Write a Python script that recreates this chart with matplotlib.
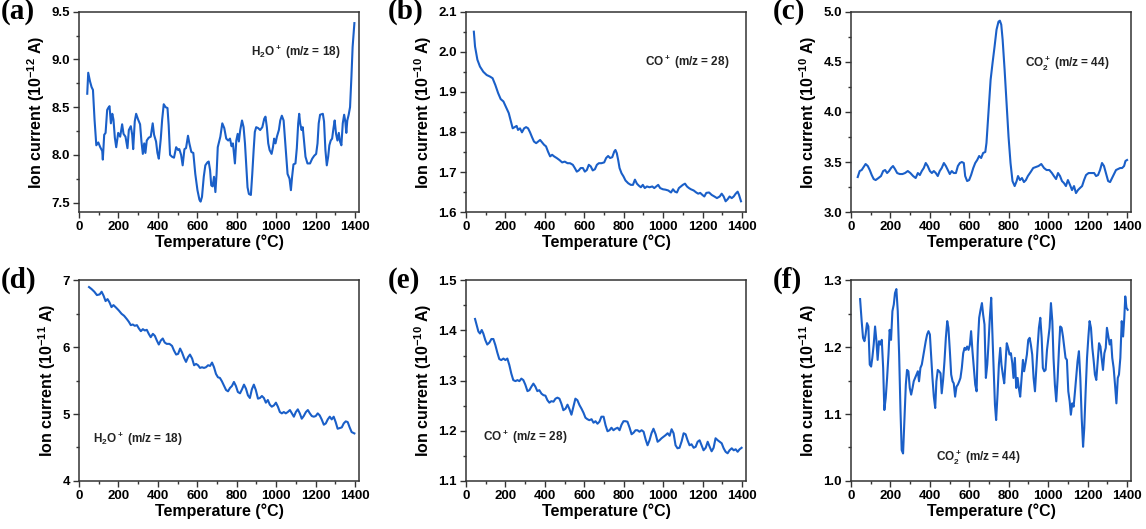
"""Ion current vs temperature (MS signals), six panels a-f."""
import matplotlib
matplotlib.use("Agg")
import matplotlib.pyplot as plt
from matplotlib.ticker import MultipleLocator, AutoMinorLocator

plt.rcParams["font.family"] = ["Liberation Sans", "DejaVu Sans"]
plt.rcParams["font.weight"] = "bold"
plt.rcParams["mathtext.fontset"] = "custom"
plt.rcParams["mathtext.rm"] = "Liberation Sans:bold"
plt.rcParams["mathtext.it"] = "Liberation Sans:bold"
plt.rcParams["mathtext.bf"] = "Liberation Sans:bold"

LINE = "#1a5fc8"

# (a) H2O+ , 10^-12 A
T_a = [42, 47, 56, 64, 71, 79, 88, 98, 108, 118, 121, 128, 135, 143, 148, 155, 162, 169,
       175, 182, 189, 199, 209, 219, 226, 236, 246, 253, 263, 270, 275, 283, 290, 300,
       310, 317, 324, 331, 337, 344, 354, 364, 374, 381, 391, 398, 405, 415, 422, 430,
       439, 449, 455, 462, 472, 482, 493, 503, 509, 518, 526, 535, 543, 553, 560, 570,
       580, 590, 601, 611, 617, 624, 633, 641, 651, 658, 665, 671, 678, 685, 692, 698,
       704, 717, 727, 737, 747, 757, 766, 774, 781, 791, 798, 805, 811, 818, 827, 835,
       842, 849, 855, 862, 872, 879, 886, 892, 899, 909, 919, 930, 940, 946, 953, 960,
       967, 977, 984, 990, 997, 1004, 1014, 1021, 1029, 1038, 1044, 1051, 1058, 1068,
       1075, 1081, 1088, 1098, 1105, 1112, 1117, 1122, 1129, 1135, 1142, 1149, 1159,
       1172, 1183, 1193, 1203, 1210, 1216, 1223, 1237, 1243, 1250, 1257, 1264, 1270,
       1277, 1284, 1291, 1297, 1304, 1311, 1318, 1324, 1331, 1338, 1345, 1351, 1356,
       1361, 1368, 1375, 1382, 1388, 1397]
I_a = [8.64, 8.86, 8.77, 8.71, 8.68, 8.37, 8.10, 8.13, 8.08, 8.04, 7.95, 8.21, 8.23, 8.47,
       8.49, 8.51, 8.33, 8.43, 8.37, 8.18, 8.08, 8.23, 8.19, 8.32, 8.22, 8.19, 8.07, 8.26,
       8.30, 8.21, 8.06, 8.35, 8.43, 8.37, 8.32, 8.14, 8.01, 8.12, 8.02, 8.15, 8.18, 8.19,
       8.33, 8.21, 8.14, 8.02, 7.96, 8.17, 8.37, 8.53, 8.50, 8.49, 8.31, 8.00, 7.98, 7.97,
       8.08, 8.05, 8.06, 8.00, 7.89, 8.06, 8.07, 8.20, 8.12, 8.03, 8.02, 7.80, 7.63, 7.53,
       7.51, 7.56, 7.77, 7.89, 7.92, 7.93, 7.84, 7.68, 7.67, 7.77, 7.61, 7.80, 8.08, 8.19,
       8.33, 8.28, 8.17, 8.15, 8.17, 8.09, 8.12, 7.91, 8.15, 8.22, 8.14, 8.26, 8.36, 8.29,
       8.12, 7.87, 7.66, 7.59, 7.58, 7.80, 8.05, 8.24, 8.29, 8.28, 8.26, 8.29, 8.38, 8.40,
       8.29, 8.12, 8.05, 8.01, 8.08, 8.17, 8.12, 8.19, 8.26, 8.36, 8.41, 8.36, 8.19, 7.98,
       7.80, 7.75, 7.63, 7.77, 7.90, 7.91, 8.07, 8.33, 8.43, 8.33, 8.26, 8.29, 8.14, 7.98,
       7.91, 7.91, 7.96, 7.99, 8.01, 8.12, 8.33, 8.42, 8.43, 8.35, 8.05, 7.89, 7.98, 8.10,
       8.15, 8.17, 8.28, 8.36, 8.22, 8.15, 8.23, 8.14, 8.10, 8.33, 8.42, 8.35, 8.23, 8.36,
       8.42, 8.50, 8.82, 9.13, 9.38]

# (b) CO+ , 10^-10 A
T_b = [40, 46, 58, 71, 88, 105, 122, 135, 149, 163, 176, 190, 203, 217, 227, 237, 247, 257,
       264, 274, 284, 295, 305, 315, 325, 335, 345, 356, 366, 376, 386, 396, 406, 416,
       427, 437, 447, 460, 474, 488, 501, 515, 528, 542, 552, 562, 572, 582, 593, 603,
       613, 623, 633, 643, 654, 664, 674, 687, 701, 711, 721, 731, 742, 752, 758, 765,
       772, 779, 789, 799, 809, 823, 836, 847, 857, 867, 877, 887, 897, 907, 918, 931,
       945, 955, 965, 975, 985, 999, 1012, 1026, 1040, 1050, 1060, 1070, 1080, 1090,
       1100, 1111, 1121, 1131, 1141, 1155, 1168, 1178, 1188, 1199, 1209, 1219, 1233,
       1246, 1260, 1273, 1287, 1297, 1307, 1317, 1327, 1337, 1348, 1358, 1368, 1378,
       1385, 1395]
I_b = [2.050, 2.013, 1.980, 1.963, 1.950, 1.942, 1.938, 1.934, 1.917, 1.897, 1.882, 1.876,
       1.862, 1.847, 1.828, 1.809, 1.812, 1.815, 1.805, 1.809, 1.799, 1.809, 1.812, 1.809,
       1.799, 1.787, 1.776, 1.772, 1.776, 1.780, 1.774, 1.768, 1.764, 1.751, 1.739, 1.743,
       1.739, 1.735, 1.730, 1.724, 1.726, 1.722, 1.722, 1.718, 1.710, 1.701, 1.704, 1.710,
       1.710, 1.701, 1.705, 1.718, 1.714, 1.704, 1.707, 1.718, 1.722, 1.722, 1.724, 1.735,
       1.740, 1.735, 1.737, 1.751, 1.755, 1.747, 1.730, 1.710, 1.697, 1.689, 1.679, 1.672,
       1.668, 1.668, 1.681, 1.671, 1.666, 1.662, 1.668, 1.660, 1.664, 1.662, 1.664, 1.660,
       1.664, 1.668, 1.660, 1.657, 1.656, 1.654, 1.649, 1.657, 1.651, 1.649, 1.660, 1.664,
       1.668, 1.671, 1.664, 1.660, 1.657, 1.654, 1.649, 1.646, 1.648, 1.643, 1.639, 1.648,
       1.649, 1.643, 1.639, 1.635, 1.639, 1.646, 1.639, 1.627, 1.632, 1.639, 1.635, 1.639,
       1.646, 1.651, 1.643, 1.627]

# (c) CO2+ , 10^-10 A
T_c = [34, 44, 54, 64, 74, 85, 95, 105, 115, 125, 139, 152, 163, 173, 183, 193, 203, 213,
       223, 234, 247, 261, 274, 288, 301, 315, 328, 339, 349, 359, 369, 379, 389, 400,
       410, 420, 430, 440, 450, 460, 471, 481, 491, 501, 511, 521, 532, 542, 552, 562,
       572, 579, 589, 599, 609, 620, 630, 640, 650, 660, 670, 681, 687, 698, 708, 718,
       728, 738, 748, 755, 762, 769, 779, 789, 799, 809, 819, 830, 840, 847, 857, 867,
       877, 887, 897, 911, 924, 938, 951, 965, 979, 992, 1006, 1019, 1029, 1040, 1050,
       1060, 1070, 1080, 1090, 1100, 1111, 1121, 1131, 1141, 1151, 1161, 1172, 1182,
       1192, 1205, 1219, 1233, 1243, 1253, 1263, 1273, 1283, 1293, 1304, 1314, 1324,
       1334, 1344, 1354, 1365, 1375, 1385, 1392, 1400]
I_c = [3.35, 3.41, 3.42, 3.45, 3.48, 3.46, 3.42, 3.37, 3.33, 3.32, 3.34, 3.36, 3.41, 3.42,
       3.39, 3.41, 3.44, 3.46, 3.43, 3.39, 3.38, 3.38, 3.39, 3.41, 3.39, 3.36, 3.34, 3.39,
       3.37, 3.41, 3.44, 3.49, 3.46, 3.41, 3.39, 3.41, 3.39, 3.36, 3.41, 3.44, 3.49, 3.46,
       3.42, 3.38, 3.41, 3.39, 3.39, 3.46, 3.49, 3.50, 3.49, 3.36, 3.31, 3.32, 3.37, 3.44,
       3.49, 3.52, 3.56, 3.54, 3.59, 3.60, 3.69, 4.02, 4.32, 4.49, 4.65, 4.82, 4.90, 4.91,
       4.87, 4.72, 4.42, 4.09, 3.75, 3.49, 3.31, 3.26, 3.31, 3.36, 3.32, 3.34, 3.30, 3.32,
       3.36, 3.40, 3.44, 3.45, 3.46, 3.48, 3.44, 3.42, 3.42, 3.39, 3.36, 3.33, 3.39, 3.36,
       3.31, 3.29, 3.26, 3.32, 3.27, 3.22, 3.26, 3.19, 3.22, 3.24, 3.26, 3.32, 3.37, 3.39,
       3.39, 3.39, 3.36, 3.37, 3.42, 3.49, 3.46, 3.39, 3.31, 3.30, 3.34, 3.38, 3.42, 3.43,
       3.44, 3.44, 3.46, 3.51, 3.52]

# (d) H2O+ , 10^-11 A
T_d = [51, 64, 78, 91, 105, 115, 125, 135, 145, 155, 165, 175, 189, 202, 216, 229, 243, 253,
       263, 273, 283, 294, 304, 314, 324, 334, 344, 354, 364, 375, 385, 395, 405, 415,
       425, 435, 445, 459, 472, 482, 493, 503, 513, 523, 533, 543, 553, 563, 574, 584,
       594, 604, 614, 624, 634, 644, 655, 665, 675, 685, 695, 705, 715, 725, 736, 746,
       756, 766, 776, 786, 796, 806, 817, 827, 837, 847, 857, 867, 877, 887, 897, 908,
       918, 928, 938, 948, 958, 968, 978, 989, 999, 1009, 1019, 1029, 1039, 1049, 1059,
       1070, 1080, 1090, 1100, 1110, 1120, 1130, 1140, 1151, 1161, 1171, 1181, 1191,
       1201, 1211, 1221, 1231, 1242, 1252, 1262, 1272, 1282, 1292, 1302, 1312, 1323,
       1333, 1343, 1353, 1363, 1373, 1383, 1397]
I_d = [6.90, 6.87, 6.83, 6.78, 6.79, 6.83, 6.77, 6.69, 6.72, 6.67, 6.60, 6.63, 6.59, 6.55,
       6.50, 6.47, 6.42, 6.38, 6.33, 6.34, 6.32, 6.33, 6.28, 6.24, 6.27, 6.25, 6.26, 6.20,
       6.15, 6.20, 6.17, 6.10, 6.04, 6.10, 6.13, 6.07, 6.05, 6.05, 6.02, 5.95, 5.89, 5.90,
       5.98, 5.92, 5.84, 5.78, 5.85, 5.89, 5.83, 5.73, 5.75, 5.73, 5.69, 5.70, 5.69, 5.70,
       5.73, 5.72, 5.77, 5.70, 5.60, 5.55, 5.54, 5.49, 5.42, 5.36, 5.34, 5.39, 5.42, 5.48,
       5.42, 5.33, 5.31, 5.37, 5.44, 5.38, 5.28, 5.24, 5.37, 5.44, 5.36, 5.23, 5.24, 5.27,
       5.24, 5.17, 5.21, 5.14, 5.11, 5.13, 5.17, 5.11, 5.03, 5.01, 5.03, 5.01, 5.03, 5.06,
       5.01, 4.96, 5.03, 5.07, 5.01, 4.93, 4.97, 5.03, 5.06, 5.01, 4.97, 4.96, 4.97, 5.01,
       4.98, 4.92, 4.84, 4.86, 4.92, 4.96, 4.92, 4.96, 4.88, 4.78, 4.79, 4.80, 4.86, 4.89,
       4.88, 4.80, 4.73, 4.71]

# (e) CO+ , 10^-10 A
T_e = [46, 54, 63, 71, 80, 88, 98, 108, 119, 129, 139, 149, 159, 169, 179, 190, 200, 210,
       220, 230, 240, 251, 261, 271, 281, 291, 301, 312, 322, 332, 342, 352, 362, 372,
       383, 393, 403, 413, 423, 433, 444, 454, 464, 474, 484, 494, 505, 515, 525, 535,
       545, 555, 565, 576, 586, 596, 606, 616, 626, 637, 647, 657, 667, 677, 687, 698,
       708, 718, 728, 738, 748, 758, 769, 779, 789, 799, 809, 819, 830, 840, 850, 860,
       870, 880, 891, 901, 911, 921, 931, 941, 951, 962, 972, 982, 992, 1002, 1012, 1023,
       1033, 1043, 1053, 1063, 1073, 1083, 1094, 1104, 1114, 1124, 1134, 1144, 1155,
       1165, 1175, 1185, 1195, 1205, 1216, 1226, 1236, 1246, 1256, 1266, 1277, 1287,
       1297, 1307, 1317, 1327, 1337, 1348, 1358, 1368, 1378, 1388, 1398]
I_e = [1.423, 1.411, 1.398, 1.394, 1.401, 1.394, 1.381, 1.372, 1.376, 1.383, 1.383, 1.371,
       1.356, 1.343, 1.341, 1.344, 1.341, 1.344, 1.331, 1.314, 1.301, 1.299, 1.301, 1.299,
       1.304, 1.301, 1.292, 1.279, 1.281, 1.288, 1.294, 1.288, 1.279, 1.281, 1.274, 1.271,
       1.270, 1.261, 1.256, 1.259, 1.258, 1.264, 1.266, 1.264, 1.254, 1.241, 1.244, 1.252,
       1.243, 1.232, 1.248, 1.264, 1.261, 1.251, 1.244, 1.236, 1.226, 1.223, 1.221, 1.223,
       1.216, 1.219, 1.214, 1.218, 1.228, 1.228, 1.211, 1.199, 1.201, 1.206, 1.201, 1.204,
       1.206, 1.201, 1.212, 1.219, 1.219, 1.218, 1.206, 1.193, 1.196, 1.201, 1.201, 1.198,
       1.201, 1.198, 1.183, 1.171, 1.181, 1.195, 1.204, 1.193, 1.178, 1.181, 1.185, 1.188,
       1.191, 1.195, 1.190, 1.203, 1.195, 1.171, 1.165, 1.166, 1.179, 1.195, 1.193, 1.181,
       1.171, 1.173, 1.166, 1.168, 1.178, 1.181, 1.171, 1.161, 1.166, 1.178, 1.168, 1.159,
       1.166, 1.185, 1.181, 1.178, 1.175, 1.165, 1.158, 1.155, 1.161, 1.165, 1.161, 1.163,
       1.158, 1.163, 1.166]

# (f) CO2+ , 10^-11 A
T_f = [46, 54, 61, 68, 74, 81, 88, 95, 102, 108, 115, 122, 129, 135, 142, 149, 156, 163,
       169, 176, 183, 190, 196, 203, 210, 217, 223, 230, 237, 244, 251, 257, 264, 271,
       278, 284, 291, 298, 305, 312, 318, 325, 332, 339, 345, 352, 359, 366, 372, 379,
       386, 393, 400, 406, 413, 420, 427, 433, 440, 447, 454, 460, 467, 474, 481, 488,
       494, 501, 508, 515, 521, 528, 535, 542, 549, 555, 562, 569, 576, 582, 589, 596,
       603, 609, 616, 623, 630, 637, 643, 650, 657, 664, 670, 677, 684, 691, 697, 704,
       711, 719, 730, 736, 743, 750, 757, 763, 770, 777, 784, 790, 797, 804, 811, 818,
       824, 831, 838, 845, 851, 858, 865, 872, 878, 885, 892, 899, 906, 912, 919, 926,
       933, 939, 946, 953, 960, 967, 973, 980, 987, 994, 1000, 1007, 1014, 1021, 1027,
       1034, 1041, 1048, 1055, 1061, 1068, 1075, 1082, 1088, 1095, 1102, 1109, 1115,
       1122, 1129, 1136, 1143, 1149, 1156, 1163, 1170, 1177, 1183, 1190, 1197, 1204,
       1210, 1217, 1224, 1231, 1237, 1244, 1251, 1258, 1265, 1271, 1278, 1285, 1292,
       1298, 1305, 1312, 1319, 1325, 1332, 1339, 1346, 1353, 1359, 1366, 1373, 1380,
       1386, 1391, 1397, 1403]
I_f = [1.272, 1.239, 1.214, 1.209, 1.219, 1.236, 1.231, 1.174, 1.171, 1.184, 1.204, 1.231,
       1.209, 1.181, 1.209, 1.204, 1.211, 1.169, 1.106, 1.124, 1.154, 1.189, 1.226, 1.211,
       1.254, 1.264, 1.281, 1.287, 1.254, 1.189, 1.104, 1.046, 1.041, 1.094, 1.144, 1.166,
       1.164, 1.139, 1.129, 1.139, 1.149, 1.154, 1.159, 1.164, 1.149, 1.169, 1.174, 1.186,
       1.196, 1.209, 1.219, 1.224, 1.219, 1.189, 1.154, 1.126, 1.109, 1.149, 1.166, 1.164,
       1.161, 1.131, 1.151, 1.179, 1.214, 1.239, 1.229, 1.196, 1.159, 1.149, 1.146, 1.126,
       1.141, 1.144, 1.149, 1.154, 1.169, 1.191, 1.199, 1.196, 1.201, 1.196, 1.204, 1.224,
       1.194, 1.169, 1.144, 1.134, 1.204, 1.244, 1.256, 1.266, 1.249, 1.234, 1.154, 1.174,
       1.204, 1.244, 1.274, 1.204, 1.114, 1.091, 1.129, 1.174, 1.199, 1.174, 1.159, 1.146,
       1.179, 1.206, 1.199, 1.189, 1.191, 1.176, 1.154, 1.184, 1.139, 1.154, 1.139, 1.126,
       1.154, 1.181, 1.164, 1.176, 1.189, 1.211, 1.214, 1.204, 1.189, 1.154, 1.134, 1.164,
       1.199, 1.229, 1.244, 1.214, 1.169, 1.164, 1.166, 1.196, 1.211, 1.229, 1.266, 1.239,
       1.184, 1.144, 1.119, 1.154, 1.199, 1.231, 1.229, 1.216, 1.199, 1.184, 1.181, 1.134,
       1.119, 1.099, 1.116, 1.111, 1.134, 1.159, 1.179, 1.194, 1.154, 1.094, 1.051, 1.079,
       1.134, 1.184, 1.216, 1.239, 1.229, 1.199, 1.179, 1.159, 1.151, 1.179, 1.206, 1.201,
       1.184, 1.166, 1.191, 1.199, 1.229, 1.216, 1.204, 1.211, 1.184, 1.169, 1.144, 1.116,
       1.154, 1.159, 1.184, 1.239, 1.216, 1.244, 1.276, 1.259, 1.256]

# panel tags, species labels and unit exponents
TAGS = ["(a)", "(b)", "(c)", "(d)", "(e)", "(f)"]
SPECIES = [r"$\mathregular{H_2O^+}$ (m/z = 18)", r"$\mathregular{CO^+}$ (m/z = 28)",
           r"$\mathregular{CO_2^+}$ (m/z = 44)", r"$\mathregular{H_2O^+}$ (m/z = 18)",
           r"$\mathregular{CO^+}$ (m/z = 28)", r"$\mathregular{CO_2^+}$ (m/z = 44)"]
EXPONENTS = ["-12", "-10", "-10", "-11", "-10", "-11"]
YLIMS = [(7.4, 9.5), (1.6, 2.1), (3.0, 5.0), (4, 7), (1.1, 1.5), (1.0, 1.3)]
YSTEPS = [0.5, 0.1, 0.5, 1, 0.1, 0.1]
LABEL_POS = [(1097, 9.07), (1122, 1.975), (1095, 4.49), (299, 4.63), (300, 1.188),
             (647, 1.035)]
SERIES = [(T_a, I_a), (T_b, I_b), (T_c, I_c), (T_d, I_d), (T_e, I_e), (T_f, I_f)]

LEFTS = [0.0689, 0.4066, 0.7426]
BOTTOMS = [0.599, 0.091]
W, H = 0.2443, 0.379

fig = plt.figure(figsize=(11.46, 5.29), dpi=100)
for i, (T, I) in enumerate(SERIES):
    ax = fig.add_axes([LEFTS[i % 3], BOTTOMS[i // 3], W, H])
    ax.plot(T, I, color=LINE, lw=1.5)
    ax.set_xlim(0, 1420)
    ax.set_ylim(*YLIMS[i])
    ax.xaxis.set_major_locator(MultipleLocator(200))
    ax.xaxis.set_minor_locator(MultipleLocator(100))
    ax.yaxis.set_major_locator(MultipleLocator(YSTEPS[i]))
    ax.yaxis.set_minor_locator(AutoMinorLocator(2))
    ax.tick_params(which="both", direction="out", width=1.0, labelsize=9.5, pad=2,
                   color="#333333")
    ax.tick_params(which="major", length=4.5)
    ax.tick_params(which="minor", length=2.5)
    for sp in ax.spines.values():
        sp.set_linewidth(1.1)
        sp.set_color("#333333")
    ax.set_xlabel("Temperature (°C)", fontsize=11.5, fontweight="bold", labelpad=1)
    ax.set_ylabel(r"Ion current ($\mathregular{10^{%s}}$ A)" % EXPONENTS[i],
                  fontsize=11.5, fontweight="bold", labelpad=3)
    ax.text(LABEL_POS[i][0], LABEL_POS[i][1], SPECIES[i], fontsize=8.5,
            fontweight="bold", ha="center", va="center", color="#222222")
    ax.text(-0.28, 1.0, TAGS[i], transform=ax.transAxes, fontsize=21, fontweight="bold",
            family="Liberation Serif", ha="left", va="center")

fig.savefig("out.png", dpi=100)
